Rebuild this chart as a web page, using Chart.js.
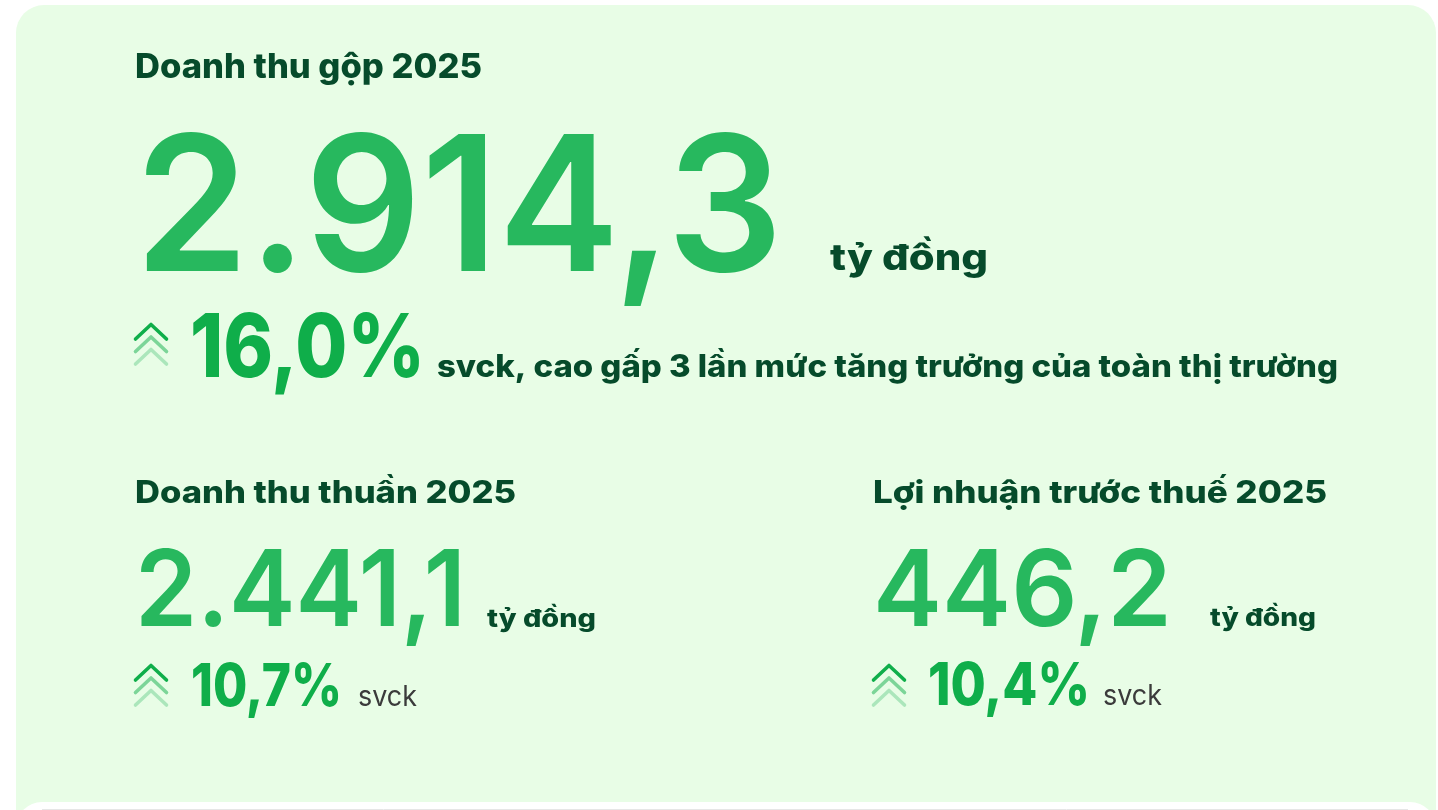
<!DOCTYPE html>
<html lang="vi">
<head>
<meta charset="utf-8">
<title>Doanh thu 2025</title>
<script src="https://cdn.jsdelivr.net/npm/chart.js@4/dist/chart.umd.min.js"></script>
<style>
  html, body { margin: 0; padding: 0; background: #fff; overflow: hidden; }
  canvas { display: block; }
</style>
</head>
<body>
<canvas id="kpi" width="1438" height="810"></canvas>
<script>
// figures
const titles = ['Doanh thu gộp 2025', 'Doanh thu thuần 2025', 'Lợi nhuận trước thuế 2025']
const values = [2914.3, 2441.1, 446.2]
const growth = [16.0, 10.7, 10.4]
const unit = 'tỷ đồng'
const notes = ['svck, cao gấp 3 lần mức tăng trưởng của toàn thị trường', 'svck', 'svck']

// where each block sits (x, baselines, fitted widths, font sizes)
const blocks = [
    { x: 135, titleY: 78, titleW: 347, titleSize: 34,
      valY: 271, valW: 648, valSize: 188,
      unitX: 830, unitY: 270, unitW: 158, unitSize: 36,
      chevX: 134, chevY: 323, pctX: 190, pctY: 377, pctW: 235, pctSize: 88,
      noteX: 437, noteW: 901, noteSize: 31, noteBold: true },
    { x: 135, titleY: 503, titleW: 381, titleSize: 31,
      valY: 626, valW: 331, valSize: 106,
      unitX: 487, unitY: 627, unitW: 109, unitSize: 25,
      chevX: 134, chevY: 664, pctX: 191, pctY: 706, pctW: 151, pctSize: 59,
      noteX: 358, noteW: 59, noteSize: 29, noteBold: false },
    { x: 873, titleY: 503, titleW: 454, titleSize: 31,
      valY: 626, valW: 299, valSize: 106,
      unitX: 1210, unitY: 626, unitW: 106, unitSize: 25,
      chevX: 872, chevY: 664, pctX: 928, pctY: 705, pctW: 162, pctSize: 59,
      noteX: 1103, noteW: 59, noteSize: 29, noteBold: false }
]

const DARK = '#064b2b'
const GREEN = '#27b85e'
const PCT = '#0fae4a'
const FONT = 'Inter, "Noto Sans", sans-serif'

function fmt(v) {
    let parts = v.toFixed(1).split('.')
    return parts[0].replace(/\B(?=(\d{3})+(?!\d))/g, '.') + ',' + parts[1]
}

// draw text at a given size, squeezed/stretched to the measured width
function put(ctx, text, x, y, w, size, weight, color) {
    ctx.font = weight + ' ' + size + 'px ' + FONT
    let m = ctx.measureText(text).width
    ctx.save()
    ctx.translate(x, y)
    ctx.scale(w / m, 1)
    ctx.fillStyle = color
    ctx.textBaseline = 'alphabetic'
    ctx.fillText(text, 0, 0)
    ctx.restore()
}

function chevrons(ctx, x, y) {
    let alphas = [1, 0.5, 0.28]
    ctx.save()
    ctx.lineWidth = 3.6
    ctx.lineCap = 'round'
    ctx.lineJoin = 'round'
    for (let i = alphas.length - 1; i >= 0; i--) {
        let top = y + i * 12.5
        ctx.globalAlpha = alphas[i]
        ctx.strokeStyle = PCT
        ctx.beginPath()
        ctx.moveTo(x + 1.5, top + 16)
        ctx.lineTo(x + 17, top + 1.5)
        ctx.lineTo(x + 32.5, top + 16)
        ctx.stroke()
    }
    ctx.restore()
}

const cardPlugin = {
    id: 'card',
    beforeDraw(chart) {
        let ctx = chart.ctx
        ctx.save()
        ctx.fillStyle = '#ffffff'
        ctx.fillRect(0, 0, chart.width, chart.height)
        ctx.fillStyle = '#e8fde6'
        ctx.beginPath()
        ctx.roundRect(16, 5, 1420, 900, 28)
        ctx.fill()
        ctx.restore()
    },
    afterDraw(chart) {
        let ctx = chart.ctx
        let labels = chart.data.labels
        let vals = chart.data.datasets[0].data
        blocks.forEach((b, i) => {
            put(ctx, labels[i], b.x, b.titleY, b.titleW, b.titleSize, 800, DARK)
            put(ctx, fmt(vals[i]), b.x, b.valY, b.valW, b.valSize, 600, GREEN)
            put(ctx, unit, b.unitX, b.unitY, b.unitW, b.unitSize, 800, DARK)
            chevrons(ctx, b.chevX, b.chevY)
            put(ctx, fmt(growth[i]) + '%', b.pctX, b.pctY, b.pctW, b.pctSize, 800, PCT)
            put(ctx, notes[i], b.noteX, b.pctY, b.noteW, b.noteSize,
                b.noteBold ? 800 : 400, b.noteBold ? DARK : '#3b3b3b')
        })
        // next card peeking in at the bottom
        ctx.save()
        ctx.fillStyle = '#ffffff'
        ctx.beginPath()
        ctx.roundRect(16, 802, 1420, 100, 26)
        ctx.fill()
        ctx.strokeStyle = '#e6e6e6'
        ctx.lineWidth = 1
        ctx.beginPath()
        ctx.moveTo(42, 809.5)
        ctx.lineTo(1408, 809.5)
        ctx.stroke()
        ctx.restore()
    }
}

let kpi = document.getElementById('kpi').getContext('2d')

new Chart(kpi, {
    type: 'bar',
    data: {
        labels: titles,
        datasets: [
            {
                label: 'tỷ đồng',
                data: values,
                backgroundColor: 'rgba(0,0,0,0)',
                borderWidth: 0
            }
        ]
    },
    options: {
        responsive: false,
        animation: false,
        events: [],
        layout: { padding: 0 },
        scales: {
            x: { display: false },
            y: { display: false, beginAtZero: true }
        },
        plugins: {
            legend: { display: false },
            tooltip: { enabled: false }
        }
    },
    plugins: [cardPlugin]
})
</script>
</body>
</html>
